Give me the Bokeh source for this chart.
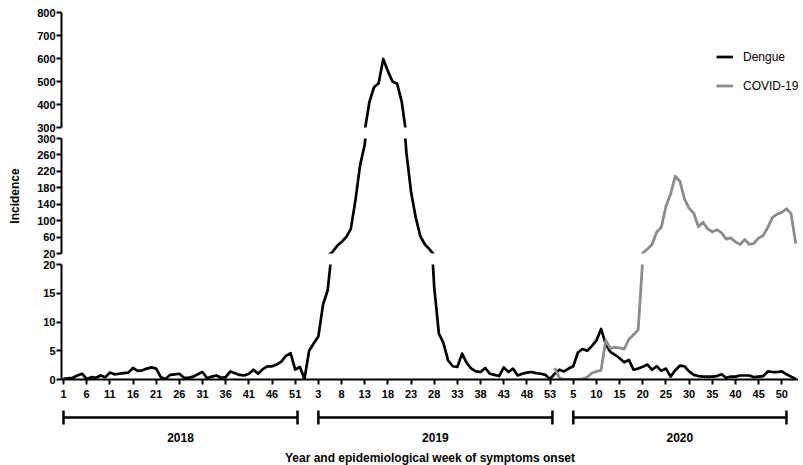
import numpy as np
from bokeh.plotting import figure
from bokeh.layouts import column
from bokeh.models import Range1d, FixedTicker, Legend, LegendItem
from bokeh.core.properties import value
from bokeh.embed import file_html
from bokeh.resources import INLINE

# ---------------- data ----------------
weeks_per_year = 53
dengue_2018 = [0.1, 0.2, 0.3, 0.7, 1.0, 0.1, 0.4, 0.3, 0.7, 0.4,
               1.2, 0.9, 1.0, 1.1, 1.2, 2.0, 1.5, 1.6, 1.9, 2.1,
               1.9, 0.4, 0.1, 0.8, 0.9, 1.0, 0.3, 0.3, 0.5, 0.9,
               1.3, 0.2, 0.5, 0.7, 0.3, 0.4, 1.4, 1.1, 0.8, 0.7,
               1.0, 1.7, 1.0, 1.8, 2.3, 2.3, 2.6, 3.1, 4.1, 4.6,
               1.7, 2.2, 0.1]
dengue_2019 = [5.0, 6.3, 7.5, 13.0, 15.5, 23, 38, 48, 60, 80,
               150, 235, 285, 410, 475, 492, 598, 545, 500, 490,
               410, 265, 170, 108, 62, 42, 30, 16, 8.0, 6.3,
               3.3, 2.3, 2.2, 4.5, 2.9, 1.9, 1.4, 1.3, 2.0, 1.0,
               0.8, 0.6, 2.1, 1.3, 1.9, 0.7, 1.0, 1.2, 1.3, 1.1,
               1.0, 0.8, 0.1]
dengue_2020 = [1.0, 1.7, 1.4, 1.9, 2.3, 4.7, 5.3, 5.0, 5.8, 6.8,
               8.8, 6.2, 4.8, 4.3, 3.7, 3.0, 3.4, 1.7, 1.9, 2.2,
               2.6, 1.7, 2.3, 1.5, 1.9, 0.5, 1.6, 2.4, 2.3, 1.4,
               0.8, 0.6, 0.5, 0.5, 0.5, 0.6, 0.9, 0.3, 0.5, 0.5,
               0.7, 0.7, 0.7, 0.4, 0.5, 0.6, 1.4, 1.3, 1.3, 1.4,
               0.9, 0.5, 0.1]
covid_2020 = [2.0, 0.3, 0.0, 0.0, 0.0, 0.0, 0.1, 0.4, 1.1, 1.4,
              1.6, 6.8, 5.4, 5.6, 5.5, 5.3, 7.0, 7.8, 8.6, 21,
              31, 42, 72, 84, 135, 165, 208, 196, 153, 130,
              118, 85, 96, 80, 73, 78, 70, 55, 58, 48,
              42, 54, 42, 45, 58, 64, 84, 108, 116, 120,
              129, 117, 44]

x_tick_labels = ["1", "6", "11", "16", "21", "26", "31", "36", "41", "46", "51",
                 "3", "8", "13", "18", "23", "28", "33", "38", "43", "48", "53",
                 "5", "10", "15", "20", "25", "30", "35", "40", "45", "50"]
years = ["2018", "2019", "2020"]
year_first = [1, 56, 111]
year_last = [51.5, 106.5, 157]

y_ticks_low = [0, 5, 10, 15, 20]
y_ticks_mid = [20, 60, 100, 140, 180, 220, 260, 300]
y_ticks_high = [300, 400, 500, 600, 700, 800]
seg_low = (0, 20)
seg_mid = (20, 300)
seg_high = (300, 800)

# ---------------- derived ----------------
dengue = dengue_2018 + dengue_2019 + dengue_2020
x_all = np.arange(1, len(dengue) + 1)
x_covid = x_all[2 * weeks_per_year:]
tick_pos = [1 + 5 * k for k in range(len(x_tick_labels))]

FONT = "Liberation Sans"
BLACK = "#000000"
GRAY = "#8c8c8c"
W = 798
LEFT = 61

xr = Range1d(0.57, 159.6)


def make_fig(height, yr, border_top, border_bottom, with_x):
    p = figure(width=W, height=height, x_range=xr, y_range=Range1d(*yr),
               output_backend="svg", toolbar_location=None,
               x_axis_location=("below" if with_x else None),
               min_border_left=LEFT, min_border_right=0,
               min_border_top=border_top, min_border_bottom=border_bottom,
               outline_line_color=None)
    p.xgrid.visible = False
    p.ygrid.visible = False
    return p


def style_y(p, ticks):
    ax = p.yaxis[0]
    ax.ticker = FixedTicker(ticks=ticks)
    ax.axis_line_width = 2
    ax.axis_line_color = BLACK
    ax.major_tick_line_width = 2
    ax.major_tick_line_color = BLACK
    ax.major_tick_out = 5
    ax.major_tick_in = 0
    ax.minor_tick_line_color = None
    ax.major_label_text_font = FONT
    ax.major_label_text_font_style = "bold"
    ax.major_label_text_font_size = "11px"
    ax.major_label_text_color = BLACK
    ax.major_label_standoff = 1


def draw(p):
    r1 = p.line(x_all, dengue, line_color=BLACK, line_width=2.7, line_join="round")
    r2 = p.line(x_covid, covid_2020, line_color=GRAY, line_width=2.8, line_join="round")
    return r1, r2


# frames: 115 px each, 11 px gaps
p_top = make_fig(133, seg_high, 12, 6, False)
p_mid = make_fig(126, seg_mid, 5, 6, False)
p_low = make_fig(142, seg_low, 5, 22, True)

for p, t in ((p_top, y_ticks_high), (p_mid, y_ticks_mid), (p_low, y_ticks_low)):
    style_y(p, t)

r_d, r_c = draw(p_top)
draw(p_mid)
draw(p_low)

p_mid.yaxis[0].axis_label = "Incidence"
p_mid.yaxis[0].axis_label_text_font = FONT
p_mid.yaxis[0].axis_label_text_font_style = "bold"
p_mid.yaxis[0].axis_label_text_font_size = "12px"
p_mid.yaxis[0].axis_label_text_color = BLACK
p_mid.yaxis[0].axis_label_standoff = 12

xa = p_low.xaxis[0]
xa.ticker = FixedTicker(ticks=tick_pos)
xa.major_label_overrides = {pos: lab for pos, lab in zip(tick_pos, x_tick_labels)}
xa.axis_line_width = 2
xa.axis_line_color = BLACK
xa.major_tick_line_width = 2
xa.major_tick_line_color = BLACK
xa.major_tick_out = 5
xa.major_tick_in = 0
xa.minor_tick_line_color = None
xa.major_label_text_font = FONT
xa.major_label_text_font_style = "bold"
xa.major_label_text_font_size = "11px"
xa.major_label_text_color = BLACK
xa.major_label_standoff = 5

legend = Legend(items=[LegendItem(label="Dengue", renderers=[r_d]),
                       LegendItem(label="COVID-19", renderers=[r_c])],
                location=(655, 34), orientation="vertical",
                border_line_color=None, background_fill_alpha=0,
                padding=0, margin=0, spacing=14,
                glyph_width=17, glyph_height=15, label_height=15,
                label_standoff=10, label_text_font=FONT,
                label_text_font_size="12px", label_text_color=BLACK)
p_top.add_layout(legend)

# ---------------- year brackets & x title ----------------
BR_H = 64
p_br = figure(width=W, height=BR_H, x_range=xr, y_range=Range1d(0, BR_H),
              output_backend="svg", toolbar_location=None,
              x_axis_location=None, y_axis_location=None,
              min_border_left=LEFT, min_border_right=0,
              min_border_top=0, min_border_bottom=0,
              outline_line_color=None)
p_br.xgrid.visible = False
p_br.ygrid.visible = False
p_br.segment(x0=year_first, y0=[48] * 3, x1=year_last, y1=[48] * 3,
             line_color=BLACK, line_width=2.5)
p_br.segment(x0=year_first, y0=[41] * 3, x1=year_first, y1=[55] * 3,
             line_color=BLACK, line_width=2.5)
p_br.segment(x0=year_last, y0=[41] * 3, x1=year_last, y1=[55] * 3,
             line_color=BLACK, line_width=2.5)
year_mid = [(a + b) / 2 for a, b in zip(year_first, year_last)]
p_br.text(x=year_mid, y=[28] * 3, text=years, text_align="center",
          text_baseline="middle", text_font=value(FONT),
          text_font_style="bold", text_font_size="12px", text_color=BLACK)
p_br.text(x=[(xr.start + xr.end) / 2], y=[8],
          text=["Year and epidemiological week of symptoms onset"],
          text_align="center", text_baseline="middle", text_font=value(FONT),
          text_font_style="bold", text_font_size="12px", text_color=BLACK)

layout = column(p_top, p_mid, p_low, p_br, spacing=0)
open("out.html", "w").write(file_html(layout, INLINE))
